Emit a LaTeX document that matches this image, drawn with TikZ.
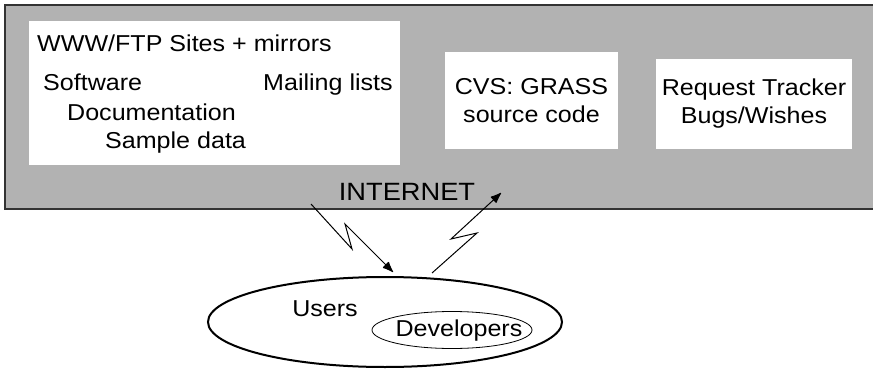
\documentclass[tikz,border=0pt]{standalone}
\usepackage{fontspec}
\setmainfont{Liberation Sans}[FakeStretch=1.09]
\usetikzlibrary{arrows.meta,shapes.geometric}
\begin{document}
\begin{tikzpicture}[x=1pt,y=-1pt,
  lbl/.style={anchor=base west,inner sep=0pt,font=\fontsize{23}{27}\selectfont},
  panel/.style={fill=white,draw=none,align=center,inner sep=0pt,font=\fontsize{23}{28}\selectfont},
  bolt/.style={line width=1pt,line join=miter,-{Latex[length=12pt,width=9pt,round]}}]
\useasboundingbox (0,0) rectangle (873,369);
% internet band
\fill[black!30] (5,5) rectangle (890,209);
\draw[line width=1.5pt,black!80] (890,5) -- (5,5) -- (5,209) -- (890,209);
% WWW panel
\fill[white] (29,21) rectangle (400,165);
\node[lbl] (www) at (37,52) {WWW/FTP Sites + mirrors};
\node[lbl] (sw) at (43,90) {Software};
\node[lbl] (ml) at (263,90) {Mailing lists};
\node[lbl] (doc) at (67,120) {Documentation};
\node[lbl] (sd) at (105,148) {Sample data};
% CVS and RT panels
\node[panel,minimum width=173pt,minimum height=97pt] (cvs) at (531.5,100.5) {CVS: GRASS\\source code};
\node[panel,minimum width=196pt,minimum height=90pt] (rt) at (754,104) {Request Tracker\\Bugs/Wishes};
\node[inner sep=0pt,font=\fontsize{25}{30}\selectfont] (inet) at (407,192) {INTERNET};
% users
\node[ellipse,draw,line width=2pt,minimum width=354pt,minimum height=90pt] (users) at (385,322) {};
\node[inner sep=0pt,font=\fontsize{23}{27}\selectfont] (ulbl) at (325,309) {Users};
\node[ellipse,draw,line width=0.8pt,minimum width=160pt,minimum height=37pt] (dev) at (452,330) {};
\node[inner sep=0pt,font=\fontsize{23}{27}\selectfont] (dlbl) at (459,331) {Developers};
% bolts
\coordinate (a1) at (311,204);
\coordinate (a2) at (352,249);
\coordinate (a3) at (345,224);
\coordinate (a4) at (393,272);
\coordinate (b1) at (432,273);
\coordinate (b2) at (477,233);
\coordinate (b3) at (451,239);
\coordinate (b4) at (501,193);
\draw[bolt] (a1) -- (a2) -- (a3) -- (a4);
\draw[bolt] (b1) -- (b2) -- (b3) -- (b4);
\end{tikzpicture}
\end{document}
